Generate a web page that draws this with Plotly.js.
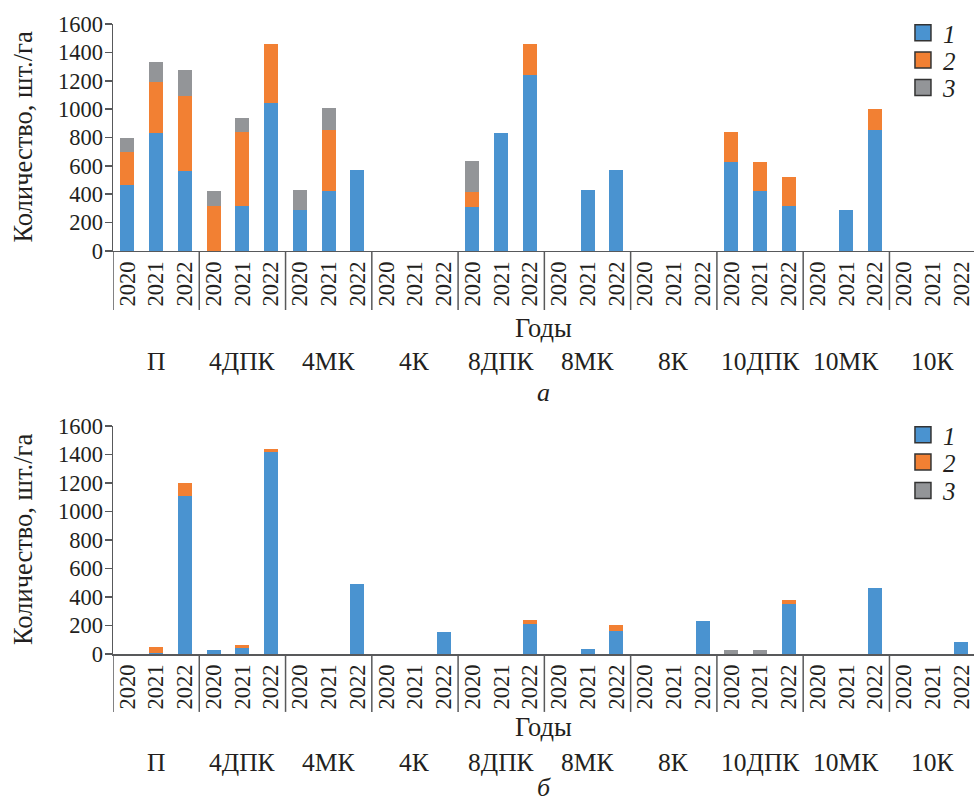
<!DOCTYPE html>
<html>
<head>
<meta charset="utf-8">
<script src="https://cdn.plot.ly/plotly-3.0.1.min.js"></script>
<style>html,body{margin:0;padding:0;background:#fff;overflow:hidden;}</style>
</head>
<body>
<div id="chart" style="width:974px;height:804px;"></div>
<script>
// Categories
var groups = ['П', '4ДПК', '4МК', '4К', '8ДПК', '8МК', '8К', '10ДПК', '10МК', '10К'];
var years = ['2020', '2021', '2022'];
var seriesNames = ['1', '2', '3'];

// Panel а (values, шт./га), 30 bars in order group × year
var s1a = [465, 830, 562,  0, 318, 1042,  287, 421, 569,  0, 0, 0,  308, 830, 1240,  0, 428, 569,  0, 0, 0,  628, 421, 318,  0, 287, 854,  0, 0, 0];
var s2a = [235, 363, 532,  318, 522, 417,  0, 433, 0,  0, 0, 0,  111, 0, 219,  0, 0, 0,  0, 0, 0,  210, 205, 202,  0, 0, 146,  0, 0, 0];
var s3a = [95, 140, 181,  103, 97, 0,  141, 153, 0,  0, 0, 0,  214, 0, 0,  0, 0, 0,  0, 0, 0,  0, 0, 0,  0, 0, 0,  0, 0, 0];

// Panel б
var s1b = [0, 10, 1110,  26, 40, 1420,  0, 0, 490,  0, 0, 152,  0, 0, 209,  0, 33, 164,  0, 0, 230,  0, 0, 350,  0, 0, 462,  0, 0, 82];
var s2b = [0, 37, 91,  0, 21, 21,  0, 0, 0,  0, 0, 0,  0, 0, 28,  0, 0, 38,  0, 0, 0,  0, 0, 28,  0, 0, 0,  0, 0, 0];
var s3b = [0, 0, 0,  0, 0, 0,  0, 0, 0,  0, 0, 0,  0, 0, 0,  0, 0, 0,  0, 0, 0,  26, 26, 0,  0, 0, 0,  0, 0, 0];

var colors = ['#4a93d0', '#f28033', '#939598'];
var FONT = '"Liberation Serif", "Times New Roman", Times, serif';
var TXT = '#231f20';
var AX = '#58595b';

var xs = [], yearLabels = [];
groups.forEach(function (g, gi) {
  years.forEach(function (y, yi) { xs.push(gi * years.length + yi); yearLabels.push(y); });
});

// one legend box per entry so the spacing can follow the reference
var legendSlots = [['legend', 'legend2', 'legend3'], ['legend4', 'legend5', 'legend6']];
var legendY = [[0.9857, 0.9424, 0.8989], [0.3476, 0.3043, 0.2592]];

var traces = [];
function addPanel(vals, xa, ya, pi) {
  vals.forEach(function (v, i) {
    traces.push({
      type: 'bar', x: xs, y: v, xaxis: xa, yaxis: ya,
      marker: {color: colors[i], line: {width: 0}},
      showlegend: false, hoverinfo: 'y'
    });
  });
  vals.forEach(function (v, i) {
    traces.push({
      type: 'scatter', mode: 'markers', x: [null], y: [null], xaxis: xa, yaxis: ya,
      name: seriesNames[i], legend: legendSlots[pi][i],
      marker: {symbol: 'square', size: 16, color: colors[i], line: {color: '#333', width: 1.5}}
    });
  });
}
addPanel([s1a, s2a, s3a], 'x', 'y', 0);
addPanel([s1b, s2b, s3b], 'x2', 'y2', 1);

function xaxisDef(anchor) {
  return {
    anchor: anchor, domain: [0, 1], range: [-0.5, 29.44],
    tickmode: 'array', tickvals: xs, ticktext: yearLabels, tickangle: -90,
    ticks: '', showgrid: false, zeroline: false,
    showline: true, linecolor: AX, linewidth: 1.5,
    tickfont: {family: FONT, size: 22.5, color: TXT}
  };
}
function yaxisDef(anchor, domain) {
  return {
    anchor: anchor, domain: domain, range: [0, 1600], dtick: 200,
    ticks: 'outside', ticklen: 7, tickwidth: 1.5, tickcolor: AX,
    showline: true, linecolor: AX, linewidth: 1.5,
    showgrid: false, zeroline: false, ticklabelstandoff: -3,
    tickfont: {family: FONT, size: 22.5, color: TXT}
  };
}
function innerTicks(over, anchor) {
  return {
    overlaying: over, anchor: anchor, range: [0, 1600], dtick: 200, side: 'left',
    ticks: 'inside', ticklen: 9, tickwidth: 1.5, tickcolor: AX,
    showticklabels: false, showline: false, showgrid: false, zeroline: false
  };
}

var domA = [0.6397, 1], domB = [0, 0.3619];

var shapes = [];
[['y', 0.26], ['y2', 0.254]].forEach(function (p, pi) {
  for (var g = 0; g <= groups.length; g++) {
    shapes.push({
      type: 'line', xref: pi === 0 ? 'x' : 'x2', yref: p[0] + ' domain',
      x0: g * years.length - 0.5, x1: g * years.length - 0.5, y0: 0, y1: -p[1],
      line: {color: AX, width: 1.5}
    });
  }
});

var annotations = [];
function txt(o) {
  o.showarrow = false;
  o.font = Object.assign({family: FONT, size: 26, color: TXT}, o.font || {});
  annotations.push(o);
}
// y titles
txt({text: 'Количество, шт./га', xref: 'paper', x: 0, xshift: -90, xanchor: 'center',
     yref: 'y domain', y: 0.5, yanchor: 'middle', textangle: -90, font: {size: 26.5}});
txt({text: 'Количество, шт./га', xref: 'paper', x: 0, xshift: -90, xanchor: 'center',
     yref: 'y2 domain', y: 0.5, yanchor: 'middle', textangle: -90, font: {size: 26.5}});
// axis titles "Годы"
txt({text: 'Годы', xref: 'paper', x: 0.5, yref: 'paper', y: 0.5175, yanchor: 'middle', font: {size: 26.5}});
txt({text: 'Годы', xref: 'paper', x: 0.5, yref: 'paper', y: -0.1160, yanchor: 'middle', font: {size: 26.5}});
// group labels
groups.forEach(function (g, gi) {
  var cx = gi * years.length + 1;
  txt({text: g, xref: 'x', x: cx, yref: 'paper', y: 0.465, yanchor: 'middle', font: {size: 25.5}});
  txt({text: g, xref: 'x2', x: cx, yref: 'paper', y: -0.1730, yanchor: 'middle', font: {size: 25.5}});
});
// panel letters
txt({text: 'а', xref: 'paper', x: 0.5, yref: 'paper', y: 0.4143, yanchor: 'middle', font: {style: 'italic'}});
txt({text: 'б', xref: 'paper', x: 0.5, yref: 'paper', y: -0.2381, yanchor: 'bottom', font: {style: 'italic'}});

function legendDef(y) {
  return {
    x: 0.9175, xanchor: 'left', y: y, yanchor: 'middle', traceorder: 'normal',
    bgcolor: 'rgba(0,0,0,0)', borderwidth: 0,
    font: {family: FONT, size: 25, color: TXT, style: 'italic'},
    itemwidth: 30, tracegroupgap: 0
  };
}

var layout = {
  width: 974, height: 804,
  margin: {l: 113, r: 0, t: 24, b: 150, pad: 0},
  paper_bgcolor: '#fff', plot_bgcolor: 'rgba(0,0,0,0)',
  barmode: 'stack', bargap: 0.513,
  font: {family: FONT, size: 22, color: TXT},
  xaxis: xaxisDef('y'),
  xaxis2: xaxisDef('y2'),
  yaxis: yaxisDef('x', domA),
  yaxis2: yaxisDef('x2', domB),
  yaxis3: innerTicks('y', 'x'),
  yaxis4: innerTicks('y2', 'x2'),
  shapes: shapes,
  annotations: annotations,
  showlegend: true
};
legendSlots.forEach(function (row, pi) {
  row.forEach(function (name, i) { layout[name] = legendDef(legendY[pi][i]); });
});

Plotly.newPlot('chart', traces, layout, {displayModeBar: false, staticPlot: true});
</script>
</body>
</html>
